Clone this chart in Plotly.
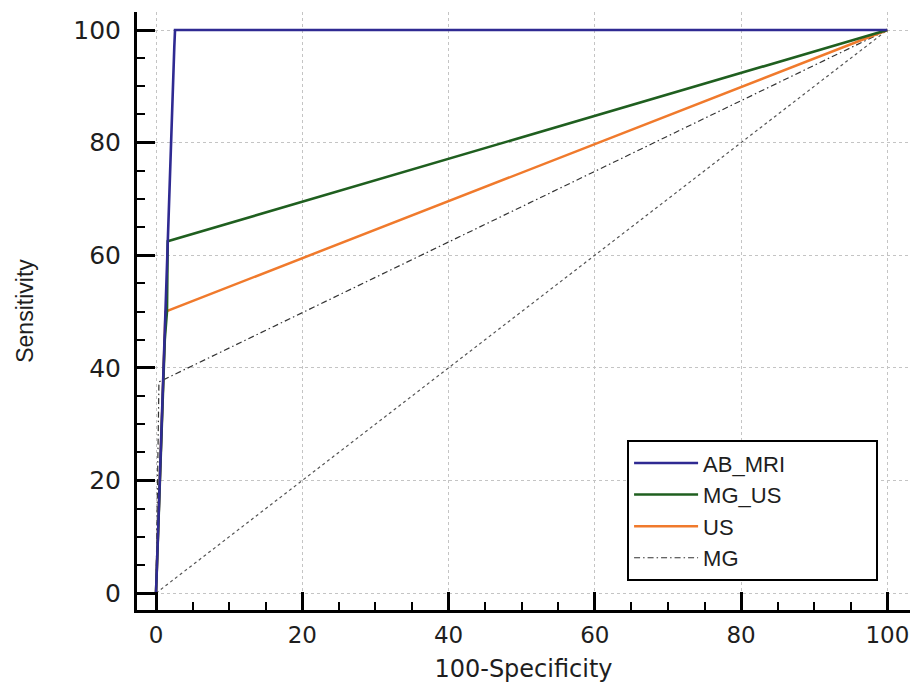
import plotly.graph_objects as go

# ROC curve points (x = 100-Specificity, y = Sensitivity)
ab_mri_x = [0, 0.3, 0.6, 1.0, 1.3, 1.6, 1.9, 2.2, 2.5, 2.6, 100]
ab_mri_y = [0, 12, 25, 40, 52, 62, 75, 88, 97, 100, 100]

mg_us_x = [0, 0.4, 0.8, 1.2, 1.5, 1.6, 100]
mg_us_y = [0, 15, 30, 45, 50, 62.5, 100]

us_x = [0, 0.4, 0.8, 1.1, 1.3, 100]
us_y = [0, 15, 30, 42, 50, 100]

mg_x = [0, 0.2, 0.4, 100]
mg_y = [0, 20, 37.5, 100]

ref_x = [0, 100]
ref_y = [0, 100]

x_ticks = [0, 20, 40, 60, 80, 100]
y_ticks = [0, 20, 40, 60, 80, 100]

WIDE = "DejaVu Sans, Arial, sans-serif"
ARIAL = "Liberation Sans, Arial, sans-serif"
TXT = "#1e1e1e"
PAD = "&nbsp;" * 14   # widens the legend box like the reference

fig = go.Figure()

# diagonal reference line (not in legend)
fig.add_trace(go.Scatter(
    x=ref_x, y=ref_y, mode="lines", showlegend=False,
    line=dict(color="#555555", width=1.2, dash="dot"),
))

fig.add_trace(go.Scatter(
    x=mg_x, y=mg_y, mode="lines", name="MG",
    line=dict(color="#333333", width=1.2, dash="6px,3px,1.5px,3px"),
))
fig.add_trace(go.Scatter(
    x=us_x, y=us_y, mode="lines", name="US",
    line=dict(color="#f07a2c", width=2.5),
))
fig.add_trace(go.Scatter(
    x=mg_us_x, y=mg_us_y, mode="lines", name="MG_US",
    line=dict(color="#1f5f1f", width=2.6),
))
fig.add_trace(go.Scatter(
    x=ab_mri_x, y=ab_mri_y, mode="lines", name="AB_MRI" + PAD,
    line=dict(color="#2f2a92", width=2.6),
))

axis_common = dict(
    showline=True, linecolor="black", linewidth=3,
    ticks="inside", ticklen=18, tickwidth=3, tickcolor="black",
    minor=dict(ticks="inside", ticklen=8, tickwidth=2, tickcolor="black", dtick=5, showgrid=False),
    showgrid=True, gridcolor="#c4c4c4", griddash="dot", gridwidth=1,
    zeroline=False, mirror=False, automargin=False,
)

fig.update_xaxes(
    range=[-2.6, 103.1], tickvals=x_ticks,
    tickfont=dict(family=WIDE, size=23, color=TXT), ticklabelstandoff=2,
    title=dict(text="100-Specificity", font=dict(family=WIDE, size=24, color=TXT), standoff=14),
    **axis_common,
)
fig.update_yaxes(
    range=[-3.0, 103.2], tickvals=y_ticks,
    tickfont=dict(family=WIDE, size=25, color=TXT), ticklabelstandoff=8,
    title=dict(text="Sensitivity", font=dict(family=ARIAL, size=23, color=TXT), standoff=34),
    **axis_common,
)

# the page body adds an 8px margin, so the figure is 8px smaller than the window
fig.update_layout(
    width=913, height=675,
    margin=dict(l=129, r=11, t=4, b=73),
    plot_bgcolor="white", paper_bgcolor="white",
    legend=dict(
        x=0.634, y=0.284, xanchor="left", yanchor="top",
        bordercolor="black", borderwidth=2, bgcolor="white",
        font=dict(family=ARIAL, size=22, color=TXT),
        traceorder="reversed", itemwidth=64, tracegroupgap=0,
    ),
)

fig.write_html("out.html")
